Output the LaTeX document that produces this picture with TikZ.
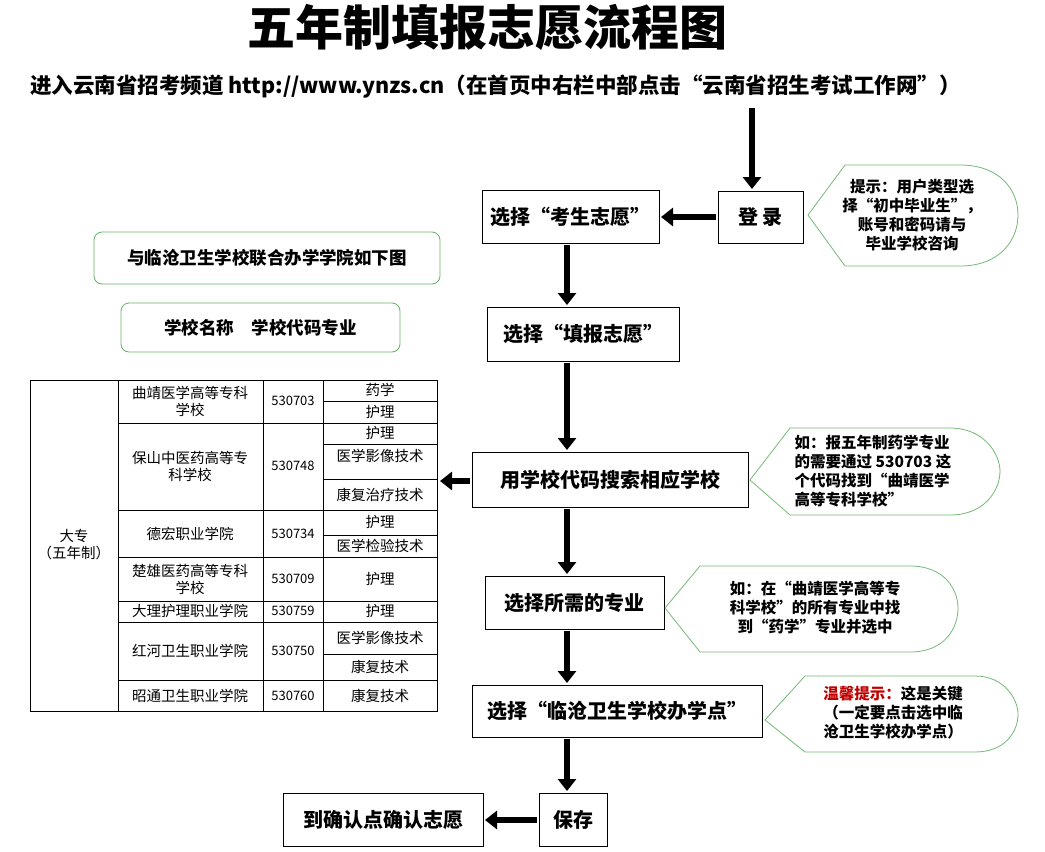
\documentclass[tikz,border=0pt]{standalone}
\usepackage{fontspec}
\setmainfont{Noto Sans CJK SC}
\usetikzlibrary{arrows.meta}
\tikzset{
  stepbox/.style={font=\bfseries\fontsize{20}{24}\selectfont},
  notebox/.style={draw=green!50!black!60, rounded corners=8pt, thick},
  bigarrow/.style={line width=6pt, -{Triangle[length=12pt,width=18pt]}},
  tipnote/.style={draw=green!50!black!55, thick},
  tiptext/.style={font=\bfseries\fontsize{15.5}{19}\selectfont},
  cell/.style={font=\fontsize{14.5}{17}\selectfont, align=center}
}
\begin{document}
\begin{tikzpicture}[x=1pt,y=-1pt]
    \useasboundingbox (0,0) rectangle (1045,852);
    % Title
    \node (title) at (487,27) {\bfseries\fontsize{48}{52}\selectfont 五年制填报志愿流程图};
    \node[anchor=west, inner sep=0pt] (entry) at (30,87) {\bfseries\fontsize{21.5}{25}\selectfont 进入云南省招考频道 http://www.ynzs.cn（在首页中右栏中部点击“云南省招生考试工作网”）};

    % Flow steps
    \draw[thick] (718,191) rectangle (803,243) node[midway, stepbox] (login) {登\ 录};
    \draw[thick] (482,190) rectangle (659,243) node[midway, stepbox] (wish) {选择“考生志愿”};
    \draw[thick] (487,307) rectangle (679,361) node[midway, stepbox] (fill) {选择“填报志愿”};
    \draw[thick] (472,452) rectangle (748,507) node[midway, stepbox] (search) {用学校代码搜索相应学校};
    \draw[thick] (485,576) rectangle (664,629) node[midway, stepbox] (major) {选择所需的专业};
    \draw[thick] (472,685) rectangle (762,737) node[midway, stepbox] (site) {选择“临沧卫生学校办学点”};
    \draw[thick] (539,793) rectangle (607,846) node[midway, stepbox] (save) {保存};
    \draw[thick] (283,793) rectangle (483,846) node[midway, stepbox] (confirm) {到确认点确认志愿};

    % Arrows
    \coordinate (top) at (752,108);
    \draw[bigarrow] (top) -- (752,189);
    \draw[bigarrow] (716,217) -- (661,217);
    \draw[bigarrow] (567,245) -- (567,305);
    \draw[bigarrow] (567,363) -- (567,450);
    \draw[bigarrow] (567,509) -- (567,574);
    \draw[bigarrow] (567,631) -- (567,683);
    \draw[bigarrow] (567,739) -- (567,791);
    \draw[bigarrow] (537,820) -- (485,820);
    \draw[bigarrow] (470,481) -- (440,481);

    % Green boxes
    \draw[notebox] (94,232) rectangle (440,284) node[midway, font=\bfseries\fontsize{17.5}{21}\selectfont] (union) {与临沧卫生学校联合办学学院如下图};
    \draw[notebox] (121,303) rectangle (400,352) node[midway, font=\bfseries\fontsize{17.5}{21}\selectfont] (head) {学校名称\quad 学校代码专业};

    % Callouts
    \draw[tipnote] (808,215) -- (845,165) -- (960,165) .. controls (1000,165) and (1018,190) .. (1018,215) .. controls (1018,240) and (1000,266) .. (960,266) -- (845,266) -- cycle;
    \node[tiptext, align=center] (tip1) at (912,215) {提示：用户类型选\\择“初中毕业生”，\\账号和密码请与\\毕业学校咨询};
    \draw[tipnote] (750,480) -- (790,428) -- (950,428) .. controls (985,428) and (1000,455) .. (1000,471) .. controls (1000,490) and (985,515) .. (950,515) -- (790,515) -- cycle;
    \node[tiptext, align=left] (tip2) at (873,471) {如：报五年制药学专业\\的需要通过 530703 这\\个代码找到“曲靖医学\\高等专科学校”};
    \draw[tipnote] (665,608) -- (700,566) -- (910,566) .. controls (945,566) and (958,590) .. (958,608) .. controls (958,628) and (945,652) .. (910,652) -- (700,652) -- cycle;
    \node[tiptext, align=center] (tip3) at (815,608) {如：在“曲靖医学高等专\\科学校”的所有专业中找\\到“药学”专业并选中};
    \draw[tipnote] (765,720) -- (805,676) -- (975,676) .. controls (1005,676) and (1018,700) .. (1018,714) .. controls (1018,732) and (1005,752) .. (975,752) -- (805,752) -- cycle;
    \node[tiptext, align=center] (tip4) at (893,713) {\textcolor{red!75!black}{温馨提示：}这是关键\\（一定要点击选中临\\沧卫生学校办学点）};

    % Table
    \draw (30,380) rectangle (437,711);
    \foreach \x in {118,263,323} \draw (\x,380) -- (\x,711);
    \foreach \y in {423,510,557,601,622,680} \draw (118,\y) -- (437,\y);
    \foreach \y in {401,444,479,535,654} \draw (323,\y) -- (437,\y);
    \node[cell] (level) at (74,545) {大专\\（五年制）};
    \node[cell] (s1) at (190,401) {曲靖医学高等专科\\学校};
    \node[cell] (s2) at (190,466) {保山中医药高等专\\科学校};
    \node[cell] (s3) at (190,534) {德宏职业学院};
    \node[cell] (s4) at (190,579) {楚雄医药高等专科\\学校};
    \node[cell] (s5) at (190,611) {大理护理职业学院};
    \node[cell] (s6) at (190,651) {红河卫生职业学院};
    \node[cell] (s7) at (190,696) {昭通卫生职业学院};
    \node[cell, font=\fontsize{13}{15}\selectfont] (c1) at (293,401) {530703};
    \node[cell, font=\fontsize{13}{15}\selectfont] (c2) at (293,466) {530748};
    \node[cell, font=\fontsize{13}{15}\selectfont] (c3) at (293,534) {530734};
    \node[cell, font=\fontsize{13}{15}\selectfont] (c4) at (293,579) {530709};
    \node[cell, font=\fontsize{13}{15}\selectfont] (c5) at (293,611) {530759};
    \node[cell, font=\fontsize{13}{15}\selectfont] (c6) at (293,651) {530750};
    \node[cell, font=\fontsize{13}{15}\selectfont] (c7) at (293,696) {530760};
    \node[cell] (m1) at (380,390) {药学};
    \node[cell] (m2) at (380,412) {护理};
    \node[cell] (m3) at (380,433) {护理};
    \node[cell] (m4) at (380,456) {医学影像技术};
    \node[cell] (m5) at (380,495) {康复治疗技术};
    \node[cell] (m6) at (380,522) {护理};
    \node[cell] (m7) at (380,546) {医学检验技术};
    \node[cell] (m8) at (380,579) {护理};
    \node[cell] (m9) at (380,611) {护理};
    \node[cell] (m10) at (380,638) {医学影像技术};
    \node[cell] (m11) at (380,667) {康复技术};
    \node[cell] (m12) at (380,696) {康复技术};
\end{tikzpicture}
\end{document}
